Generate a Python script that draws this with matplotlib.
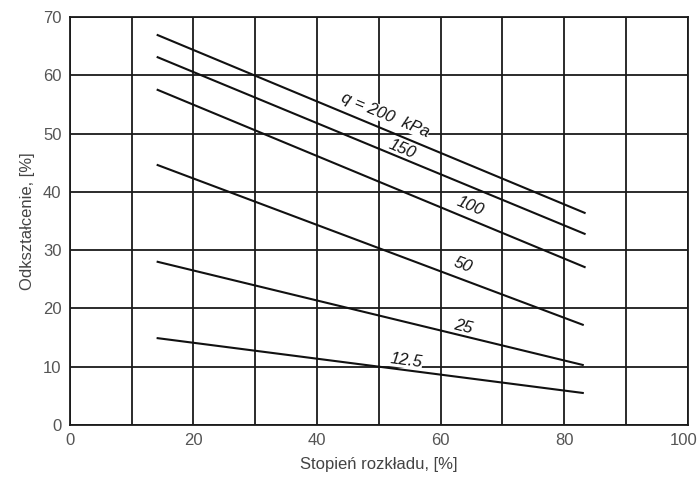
import math
import matplotlib
matplotlib.use("Agg")
import matplotlib.pyplot as plt
from matplotlib.transforms import offset_copy

# Data
x_start = [14.2, 14.2, 14.2, 14.2, 14.2, 14.2]
x_end = [83.3, 83.3, 83.3, 83.0, 83.0, 83.0]
loads = ["200", "150", "100", "50", "25", "12.5"]
y_start = [66.9, 63.1, 57.5, 44.6, 28.0, 14.9]
y_end = [36.4, 32.8, 27.1, 17.2, 10.3, 5.5]
label_texts = ["q = 200  kPa", "150", "100", "50", "25", "12.5"]
label_x = [51.0, 53.7, 64.7, 63.6, 63.6, 54.4]
label_y = [53.2, 47.4, 37.6, 27.4, 16.8, 11.1]

x_ticks = [0, 20, 40, 60, 80, 100]
y_ticks = [0, 10, 20, 30, 40, 50, 60, 70]

plt.rcParams['font.family'] = ['Liberation Sans', 'DejaVu Sans']

fig = plt.figure(figsize=(6.99, 4.86), dpi=100)
ax = fig.add_axes([0.100, 0.1255, 0.884, 0.8395])
ax.set_xlim(0, 100)
ax.set_ylim(0, 70)

ax.set_xticks(range(0, 101, 10))
ax.set_xticklabels([str(v) if v in x_ticks else "" for v in range(0, 101, 10)])
ax.set_yticks(y_ticks)
ax.grid(True, color="#1a1a1a", linewidth=1.3)
ax.set_axisbelow(True)
ax.tick_params(length=0, labelsize=12, labelcolor="#555555", pad=6)
for s in ax.spines.values():
    s.set_color("#1a1a1a")
    s.set_linewidth(1.3)

# nudge the last x tick label left so it fits like in the reference
xtl = ax.get_xticklabels()
xtl[-1].set_horizontalalignment("right")
xtl[-1].set_transform(offset_copy(xtl[-1].get_transform(), fig=fig, x=10, y=0, units="dots"))

for xs, xe, ys, ye in zip(x_start, x_end, y_start, y_end):
    ax.plot([xs, xe], [ys, ye], color="#111111", linewidth=1.5, zorder=3)

fig.canvas.draw()
for i, (t, lx, ly) in enumerate(zip(label_texts, label_x, label_y)):
    p1 = ax.transData.transform((x_start[i], y_start[i]))
    p2 = ax.transData.transform((x_end[i], y_end[i]))
    ang = math.degrees(math.atan2(p2[1] - p1[1], p2[0] - p1[0]))
    ax.text(lx, ly, t, rotation=ang, rotation_mode="anchor", ha="center", va="center",
            fontsize=12, style="italic", color="#111111", zorder=2.5,
            bbox=dict(facecolor="white", edgecolor="none", pad=0.3))

ax.set_xlabel("Stopień rozkładu, [%]", fontsize=12, color="#444444", labelpad=6)
ax.set_ylabel("Odkształcenie, [%]", fontsize=12, color="#444444", labelpad=6)

fig.savefig("out.png", dpi=100)
